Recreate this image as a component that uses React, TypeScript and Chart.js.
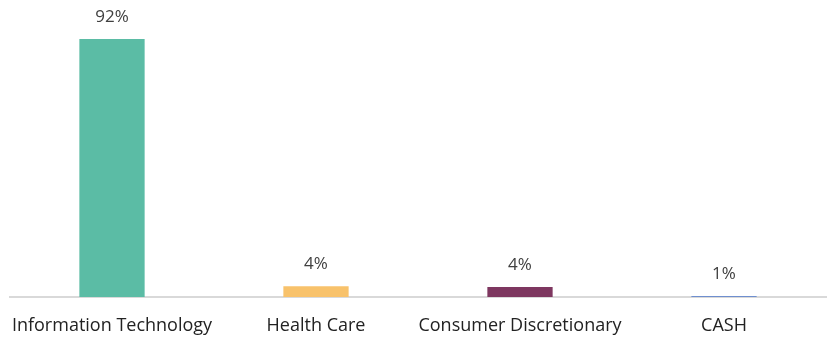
import React, { useEffect, useRef } from "react";
import { Chart, registerables } from "chart.js";

Chart.register(...registerables);

const categories = ["Information Technology", "Health Care", "Consumer Discretionary", "CASH"];
const values = [92.1, 3.8, 3.6, 0.4];
const valueLabels = ["92%", "4%", "4%", "1%"];
const barColors = ["#5bbca5", "#f8c26b", "#7e3760", "#6f8fcf"];

const labelPlugin = {
  id: "valueLabels",
  afterDatasetsDraw(chart: any) {
    const ctx = chart.ctx;
    const meta = chart.getDatasetMeta(0);
    ctx.save();
    ctx.font = "17px 'Open Sans', sans-serif";
    ctx.fillStyle = "#404040";
    ctx.textAlign = "center";
    ctx.textBaseline = "middle";
    meta.data.forEach((bar: any, i: number) => {
      ctx.fillText(valueLabels[i], bar.x, bar.y - 22);
    });
    ctx.restore();
  },
};

export default function App() {
  const ref = useRef<HTMLCanvasElement>(null);
  useEffect(() => {
    document.body.style.margin = "0";
    const chart = new Chart(ref.current!, {
      type: "bar",
      data: {
        labels: categories,
        datasets: [
          {
            data: values,
            backgroundColor: barColors,
            categoryPercentage: 1,
            barPercentage: 0.32,
            minBarLength: 1,
          },
        ],
      },
      options: {
        animation: false,
        responsive: false,
        maintainAspectRatio: false,
        layout: { padding: { left: 10, right: 9, top: 17, bottom: 0 } },
        plugins: { legend: { display: false }, tooltip: { enabled: false } },
        scales: {
          x: {
            grid: { display: false, drawTicks: false },
            border: { display: true, color: "#d9d9d9", width: 2 },
            ticks: {
              color: "#222222",
              font: { family: "'Open Sans', sans-serif", size: 18 },
              padding: 18,
              maxRotation: 0,
              autoSkip: false,
            },
            afterFit(scale: any) {
              scale.height = 42;
              scale.paddingLeft = 0;
              scale.paddingRight = 0;
            },
          },
          y: { display: false, min: 0, max: 100 },
        },
      },
      plugins: [labelPlugin],
    });
    return () => chart.destroy();
  }, []);
  return (
    <div style={{ width: 835, height: 339, background: "#ffffff" }}>
      <canvas ref={ref} width={835} height={339} />
    </div>
  );
}
